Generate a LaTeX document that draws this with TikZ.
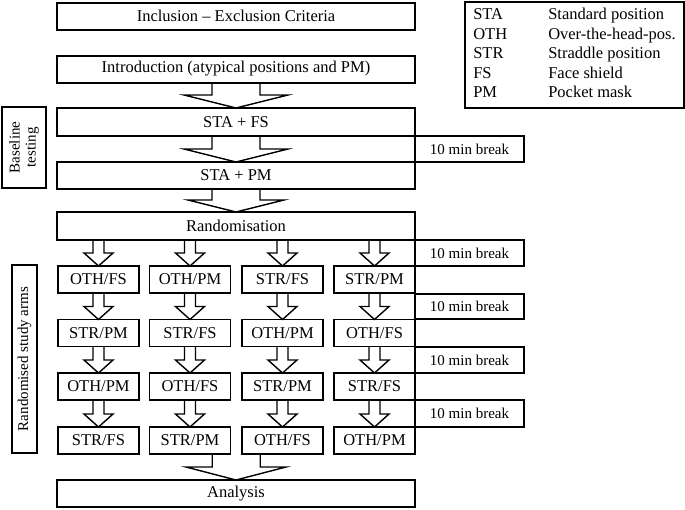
\documentclass[tikz,border=0pt]{standalone}
\usepackage{fontspec}
\setmainfont{Liberation Serif}
\usetikzlibrary{calc}

% hollow block arrow: start, tip, shaft half-width, head half-width, head length
\newcommand{\blockarrow}[5]{%
  \draw[arrowline] ($#1+(-#3,0)$) |- ($#2+(-#4,#5)$) -- #2 -- ($#2+(#4,#5)$) -| ($#1+(#3,0)$);}

\begin{document}
\begin{tikzpicture}[x=1pt,y=1pt,
    box/.style={draw,line width=2pt,outer sep=0pt,inner sep=0pt,font=\fontsize{16.5}{19}\selectfont},
    mainbox/.style={box,minimum width=358pt,minimum height=27pt},
    armbox/.style={box,line width=1.8pt,minimum width=81pt,minimum height=27pt},
    breakbox/.style={box,line width=1.8pt,minimum width=109pt,minimum height=26pt,font=\fontsize{15}{18}\selectfont},
    sidebox/.style={box,line width=1.8pt,rotate=90,align=center,font=\fontsize{15}{16}\selectfont},
    arrowline/.style={line width=1.4pt,line join=miter}]
    \useasboundingbox (0,0) rectangle (685,-509);

    \node[mainbox] (incl) at (236,-16){Inclusion -- Exclusion Criteria};
    \node[mainbox] (intro) at (236,-69){Introduction (atypical positions and PM)};
    \node[mainbox,minimum height=28pt] (stafs) at (236,-122){STA + FS};
    \node[mainbox] (stapm) at (236,-175.5){STA + PM};
    \node[mainbox,minimum height=28pt] (rand) at (236,-226){Randomisation};
    \node[mainbox] (analysis) at (236,-493.5){Analysis};

    \node[armbox] (r1c1) at (98.5,-279.5){OTH/FS};
    \node[armbox] (r1c2) at (190,-279.5){OTH/PM};
    \node[armbox] (r1c3) at (282.5,-279.5){STR/FS};
    \node[armbox] (r1c4) at (374.5,-279.5){STR/PM};
    \node[armbox] (r2c1) at (98.5,-333){STR/PM};
    \node[armbox] (r2c2) at (190,-333){STR/FS};
    \node[armbox] (r2c3) at (282.5,-333){OTH/PM};
    \node[armbox] (r2c4) at (374.5,-333){OTH/FS};
    \node[armbox] (r3c1) at (98.5,-386.5){OTH/PM};
    \node[armbox] (r3c2) at (190,-386.5){OTH/FS};
    \node[armbox] (r3c3) at (282.5,-386.5){STR/PM};
    \node[armbox] (r3c4) at (374.5,-386.5){STR/FS};
    \node[armbox] (r4c1) at (98.5,-440.5){STR/FS};
    \node[armbox] (r4c2) at (190,-440.5){STR/PM};
    \node[armbox] (r4c3) at (282.5,-440.5){OTH/FS};
    \node[armbox] (r4c4) at (374.5,-440.5){OTH/PM};

    \node[breakbox] (brk1) at (469.5,-149){10 min break};
    \node[breakbox] (brk2) at (469.5,-253){10 min break};
    \node[breakbox,minimum height=25pt] (brk3) at (469.5,-306.5){10 min break};
    \node[breakbox] (brk4) at (469.5,-360){10 min break};
    \node[breakbox,minimum height=27pt] (brk5) at (469.5,-413.5){10 min break};

    \node[sidebox,minimum width=81pt,minimum height=44pt] (base) at (24,-147.5){Baseline\\testing};
    \node[sidebox,minimum width=188pt,minimum height=25pt] (arms) at (24.5,-359){Randomised study arms};

    \node[box,minimum width=219pt,minimum height=106pt,font=\fontsize{16.5}{19.5}\selectfont] (legend) at (574.5,-55){%
      \begin{tabular}{@{}p{75pt}@{}l@{}}
        STA & Standard position\\
        OTH & Over-the-head-pos.\\
        STR & Straddle position\\
        FS & Face shield\\
        PM & Pocket mask
      \end{tabular}};

    \blockarrow{(intro.south)}{(stafs.north)}{24}{52}{13}
    \blockarrow{(stafs.south)}{(stapm.north)}{24}{52}{13}
    \blockarrow{(stapm.south)}{(rand.north)}{24}{48}{12}
    \foreach \c in {1,...,4}{
        \blockarrow{(rand.south -| r1c\c)}{(r1c\c.north)}{5.5}{14.5}{13}
        \blockarrow{(r1c\c.south)}{(r2c\c.north)}{5.5}{14.5}{13}
        \blockarrow{(r2c\c.south)}{(r3c\c.north)}{5.5}{14.5}{13}
        \blockarrow{(r3c\c.south)}{(r4c\c.north)}{5.5}{14.5}{13}
    }
    \coordinate (armsend) at ($(r4c2.south east)!0.5!(r4c3.south west)$);
    \blockarrow{(armsend)}{(analysis.north)}{24}{50}{13}
\end{tikzpicture}
\end{document}
